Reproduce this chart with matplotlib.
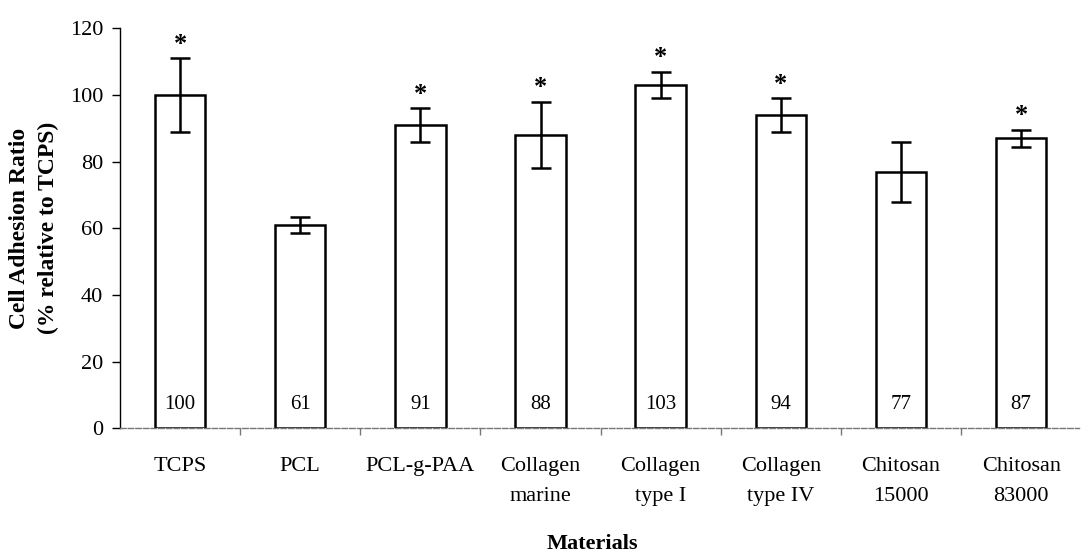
import numpy as np
import matplotlib.pyplot as plt

plt.rcParams['font.family'] = ['Liberation Serif', 'DejaVu Serif']

# 数据
materials = ['TCPS', 'PCL', 'PCL-g-PAA', 'Collagen\nmarine', 'Collagen\ntype I',
             'Collagen\ntype IV', 'Chitosan\n15000', 'Chitosan\n83000']
ratio = [100, 61, 91, 88, 103, 94, 77, 87]
err = [11, 2.5, 5, 10, 4, 5, 9, 2.5]
significant = [True, False, True, True, True, True, False, True]

fig = plt.figure(figsize=(10.81, 5.54), dpi=100)
ax = fig.add_axes([0.111, 0.227, 0.887, 0.722])

x = np.arange(len(materials))
ax.bar(x, ratio, width=0.42, color='white', edgecolor='black', linewidth=1.8, zorder=2)
ax.errorbar(x, ratio, yerr=err, fmt='none', ecolor='black', elinewidth=1.8,
            capsize=7, capthick=1.8, zorder=3)

# 柱内数值 + 显著性星号
for xi, v, e, s in zip(x, ratio, err, significant):
    ax.text(xi, 7, f'{v}', ha='center', va='center', fontsize=15)
    if s:
        ax.text(xi, v + e + 0.8, '*', ha='center', va='bottom', fontsize=19, fontweight='bold')

ax.set_xlim(-0.5, 7.48)
ax.set_ylim(0, 120)
ax.set_yticks(range(0, 121, 20))
ax.tick_params(axis='y', labelsize=16, direction='out', length=6, width=1, pad=6)

# 分类标签放在类别中心，刻度放在类别之间
ax.set_xticks(x)
ax.set_xticklabels(materials, fontsize=16, linespacing=1.75)
ax.tick_params(axis='x', length=0, pad=21)
ax.set_xticks(np.arange(0.5, 7.5, 1), minor=True)
ax.tick_params(axis='x', which='minor', length=5, width=1, direction='out', color='#777777')

for sp in ['top', 'right']:
    ax.spines[sp].set_visible(False)
ax.spines['left'].set_linewidth(1)
ax.spines['bottom'].set_color('#777777')
ax.spines['bottom'].set_linestyle((0, (4, 1.5)))
ax.spines['bottom'].set_linewidth(1)

ax.set_ylabel('Cell Adhesion Ratio\n(% relative to TCPS)', fontsize=17,
              fontweight='bold', labelpad=8, linespacing=1.45)
fig.text(0.548, 0.018, 'Materials', ha='center', va='center', fontsize=16, fontweight='bold')

plt.savefig('out.png', dpi=100)
